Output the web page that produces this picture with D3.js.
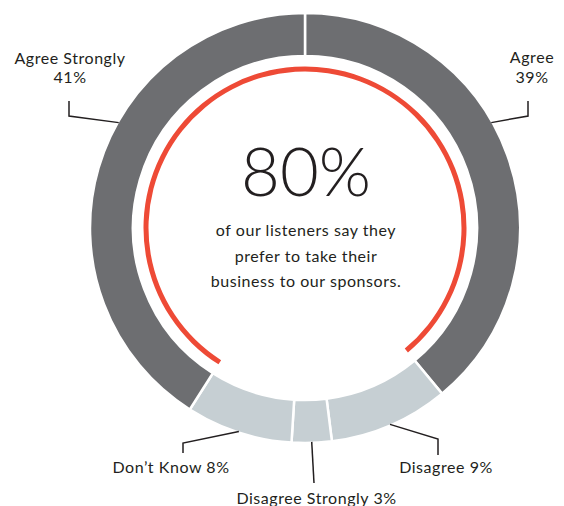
<!DOCTYPE html>
<html>
<head>
<meta charset="utf-8">
<script src="https://cdn.jsdelivr.net/npm/d3@7"></script>
<style>
  body { margin: 0; background: #fff; }
  svg { display: block; font-family: "Lato", "Open Sans", sans-serif; }
</style>
</head>
<body>
<div id="chart"></div>
<script>
// survey answers, clockwise from the top
var categories = ["Agree", "Disagree", "Disagree Strongly", "Don\u2019t Know", "Agree Strongly"];
var values = [39, 9, 3, 8, 41];
var positive = ["Agree", "Agree Strongly"];
var headline = "80%";
var blurb = ["of our listeners say they", "prefer to take their", "business to our sponsors."];

var width = 564, height = 506;
var cx = 305, cy = 228, outerR = 215, innerR = 172;

var svg = d3.select("#chart").append("svg")
  .attr("width", width)
  .attr("height", height);

var g = svg.append("g").attr("transform", "translate(" + cx + "," + cy + ")");

var pie = d3.pie().sort(null).value(function(d) { return d.value; });
var data = categories.map(function(c, i) { return {name: c, value: values[i]}; });
var arcs = pie(data);

var arc = d3.arc().innerRadius(innerR).outerRadius(outerR);

g.selectAll(".slice")
  .data(arcs)
  .enter().append("path")
  .attr("class", "slice")
  .attr("d", arc)
  .attr("fill", function(d) { return positive.indexOf(d.data.name) >= 0 ? "#6d6e71" : "#c6cfd3"; })
  .attr("stroke", "#fff")
  .attr("stroke-width", 2.5);

// red arc covering the two "agree" slices
var first = arcs[0], last = arcs[arcs.length - 1];
g.append("path")
  .attr("d", d3.arc().innerRadius(156.5).outerRadius(161.5)({
    startAngle: last.startAngle - 2 * Math.PI,
    endAngle: first.endAngle
  }))
  .attr("fill", "#ee4a36");

// center text
g.append("text")
  .attr("x", 1)
  .attr("y", -32)
  .attr("text-anchor", "middle")
  .attr("font-size", 67)
  .attr("font-weight", 300)
  .attr("fill", "#231f20")
  .text(headline);

g.selectAll(".blurb")
  .data(blurb)
  .enter().append("text")
  .attr("class", "blurb")
  .attr("x", 1)
  .attr("y", function(d, i) { return 8 + i * 25.5; })
  .attr("text-anchor", "middle")
  .attr("font-size", 16)
  .attr("letter-spacing", 0.55)
  .attr("fill", "#231f20")
  .text(function(d) { return d; });

// label layout: angle of leader start (null = slice middle), elbow, end, text position
var layout = {
  "Agree": {angle: 60.5, pts: [[223, -112], [223, -127]], tx: 227, ty: [-165, -145]},
  "Agree Strongly": {angle: -60.5, pts: [[-236, -112], [-236, -127]], tx: -235, ty: [-164, -145]},
  "Disagree": {angle: null, pts: [[133, 211], [133, 227]], tx: 141, ty: [245]},
  "Disagree Strongly": {angle: null, pts: [[9, 255]], tx: 11.5, ty: [276]},
  "Don\u2019t Know": {angle: null, pts: [[-122, 215], [-122, 225]], tx: -134, ty: [245]}
};

var line = d3.line();

arcs.forEach(function(d) {
  var lay = layout[d.data.name];
  var a = lay.angle === null ? (d.startAngle + d.endAngle) / 2 : lay.angle * Math.PI / 180;
  var start = [Math.sin(a) * (outerR - 1), -Math.cos(a) * (outerR - 1)];
  g.append("path")
    .attr("d", line([start].concat(lay.pts)))
    .attr("fill", "none")
    .attr("stroke", "#231f20")
    .attr("stroke-width", 1.5);

  var lines = lay.ty.length > 1 ? [d.data.name, d.data.value + "%"] : [d.data.name + " " + d.data.value + "%"];
  lines.forEach(function(t, i) {
    g.append("text")
      .attr("x", lay.tx)
      .attr("y", lay.ty[i])
      .attr("text-anchor", "middle")
      .attr("font-size", 16)
      .attr("letter-spacing", 0.55)
      .attr("fill", "#231f20")
      .text(t);
  });
});
</script>
</body>
</html>
